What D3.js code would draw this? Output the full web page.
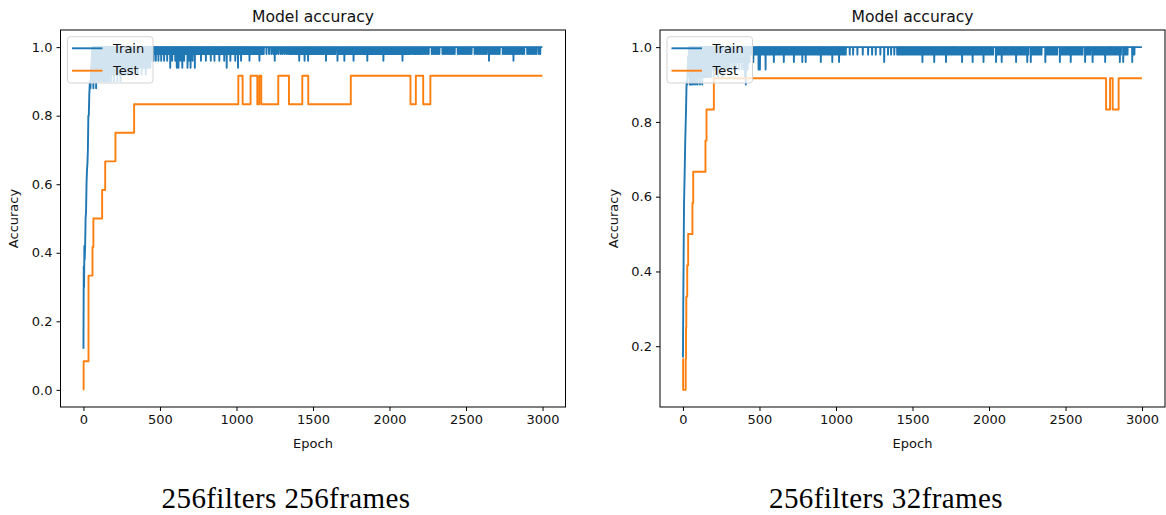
<!DOCTYPE html>
<html>
<head>
<meta charset="utf-8">
<script src="https://cdn.jsdelivr.net/npm/d3@7"></script>
<style>
  html, body { margin: 0; padding: 0; background: #fff; }
  svg { display: block; }
  .sans { font-family: "DejaVu Sans", sans-serif; fill: #111; }
  .caption { font-family: "Liberation Serif", "Times New Roman", serif; fill: #000; }
</style>
</head>
<body>
<svg id="chart" width="1166" height="515"></svg>
<script>
// ---- tick labels ----
const epochTicks = [0, 500, 1000, 1500, 2000, 2500, 3000];
const accTicksLeft = [0.0, 0.2, 0.4, 0.6, 0.8, 1.0];
const accTicksRight = [0.2, 0.4, 0.6, 0.8, 1.0];
const seriesNames = ["Train", "Test"];
const captions = ["256filters 256frames", "256filters 32frames"];
const lastEpoch = 2999;

// ================= 256 frames run =================
// early training ramp [epoch, accuracy]
const trainRamp256 = [[0,0.12],[2,0.36],[4,0.30],[6,0.42],[8,0.38],[11,0.42],[14,0.50],[17,0.52],
  [20,0.60],[23,0.64],[26,0.66],[29,0.70],[32,0.80],[35,0.80],[38,0.86],[42,0.90],[46,0.88],
  [50,0.94],[54,0.96],[58,1.0]];
// unsettled phase [epoch, accuracy]
const trainNoise256 = [[60,.90],[62,.94],[65,.88],[68,.92],[71,.96],[74,.90],[77,.92],[80,.94],[83,.88],
  [86,.92],[89,.96],[92,.90],[95,.92],[98,.94],[101,.90],[104,.96],[107,.92],[110,.90],[113,.94],[116,.92],
  [119,.96],[122,.90],[125,.92],[128,.94],[131,.90],[134,.96],[137,.92],[140,.94],[143,.90],[146,.92],
  [149,.96],[152,.92],[155,.90],[158,.94],[161,.92],[164,.96],[167,.90],[170,.92],[173,.94],[176,.96],
  [179,.92],[182,.90],[185,.94],[188,.92],[191,.96],[194,.92],[197,.94],[200,.90],[203,.96],[206,.92],
  [209,.94],[212,.96],[215,.92],[218,.94],[221,.90],[224,.96],[227,.92],[230,.94],[233,.96],[236,.92],
  [239,.94],[242,.90],[245,.96],[248,.92],[251,.94],[254,.96],[257,.92],[260,.94],[263,.96],[266,.92],
  [269,.94],[272,.98],[275,.92],[278,.94],[281,.96],[284,.92],[287,.94],[290,.96],[293,.92],[296,.98],
  [299,.94],[302,.96],[305,.92],[308,.94],[311,.98],[314,.94],[317,.96],[320,.92],[323,.98],[326,.94],
  [329,.96],[332,.98],[335,.92],[338,.96],[341,.94],[344,.98],[347,.96],[350,.94],[353,.98],[356,.92],
  [359,.96],[362,.94],[365,.98],[368,.96],[371,.94],[374,.98],[377,.96],[380,.92],[383,.98],[386,.96],
  [389,.94],[392,.98],[395,.96],[398,.94],[401,.98],[404,.96],[407,.92],[410,.98],[413,.96],[416,.94],
  [419,.98],[422,.96],[425,.94],[428,.98],[431,.96],[434,.98],[437,.94],[440,.98],[443,.96],[446,.98],
  [449,.96],[452,.98]];
// later epochs with a single misclassified sample (0.98), two (0.96) or three (0.94)
const dips98_256 = [455,462,466,471,477,482,486,494,499,503,511,516,520,524,531,536,541,552,556,561,571,
  575,585,589,594,605,609,614,618,626,630,639,643,651,655,663,668,673,685,689,697,703,708,718,723,733,
  737,742,748,753,757,762,773,778,783,788,795,805,810,815,820,826,837,842,847,851,861,866,871,876,881,
  893,898,903,909,914,925,930,941,946,951,956,965,970,975,980,986,997,1002,1006,1015,1020,1025,1035,
  1040,1045,1050,1056,1062,1068,1074,1080,1092,1098,1104,1111,1117,1124,1131,1138,1144,1157,1164,1171,
  1178,1196,1213,1228,1241,1262,1275,1289,1301,1314,1327,1338,1349,1358,1367,1377,1386,1395,1403,1419,
  1427,1436,1453,1461,1477,1485,1494,1502,1511,1520,1528,1537,1546,1554,1563,1572,1594,1602,1611,1620,
  1628,1637,1646,1669,1678,1687,1696,1714,1723,1732,1740,1749,1757,1775,1784,1793,1802,1811,1820,1828,
  1837,1846,1864,1873,1882,1891,1900,1909,1918,1927,1936,1945,1951,1969,1978,1987,1996,2005,2014,2023,
  2032,2041,2050,2059,2068,2077,2094,2103,2112,2121,2130,2140,2150,2160,2169,2178,2188,2197,2206,2216,
  2226,2236,2246,2256,2276,2286,2296,2306,2316,2326,2346,2356,2366,2376,2386,2396,2406,2416,2426,2446,
  2456,2466,2476,2486,2496,2506,2516,2526,2536,2556,2566,2576,2586,2596,2606,2616,2626,2636,2660,2670,
  2680,2690,2700,2710,2720,2740,2750,2760,2770,2780,2790,2800,2820,2830,2840,2850,2860,2870,2880,2900,
  2910,2920,2930,2940,2950,2960,2975,2985];
const dips96_256 = [458,473,490,508,527,547,580,600,634,658,692,713,768,800,832,856,888,920,960,992,1030,
  1085,1150,1250,1410,1445,1468,1585,1660,1705,1765,1855,1960,2085,2650,2810];
const dips94_256 = [567,610,621,646,680,700,728,936,1010];
// test accuracy, held from each listed epoch on [epoch, accuracy]
const testSteps256 = [[0,0],[1,0.0833],[33,0.3333],[59,0.4167],[65,0.5],[122,0.5833],[142,0.6667],
  [209,0.75],[331,0.8333],[1012,0.9167],[1040,0.8333],[1092,0.9167],[1136,0.8333],[1149,0.9167],
  [1162,0.8333],[1273,0.9167],[1343,0.8333],[1430,0.9167],[1469,0.8333],[1747,0.9167],[2137,0.8333],
  [2172,0.9167],[2220,0.8333],[2267,0.9167],[2999,0.9167]];

// ================= 32 frames run =================
const trainRamp32 = [[0,0.17],[2,0.31],[4,0.42],[7,0.58],[11,0.66],[15,0.75],[20,0.83],[24,0.91],
  [28,0.90],[33,0.975],[37,0.96],[40,1.0]];
const trainNoise32 = [[42,.92],[45,.90],[48,.94],[51,.90],[54,.96],[57,.92],[60,.90],[63,.94],[66,.92],
  [69,.96],[72,.90],[75,.94],[78,.92],[81,.96],[84,.90],[87,.94],[90,.92],[93,.96],[96,.90],[99,.92],
  [102,.94],[105,.96],[108,.92],[111,.90],[114,.94],[117,.96],[120,.92],[123,.94],[126,.90],[129,.96],
  [132,.92],[135,.94],[138,.96],[141,.92],[144,.94],[147,.98],[150,.92],[153,.94],[156,.96],[159,.92],
  [162,.98],[165,.94],[168,.96],[171,.92],[174,.98],[177,.94],[180,.96],[183,.92],[186,.98],[189,.94],
  [192,.96],[195,.98],[198,.94],[201,.92],[204,.96],[207,.98],[210,.94],[213,.96],[216,.98],[219,.94],
  [222,.96],[225,.98],[228,.92],[231,.96],[234,.98],[237,.94],[240,.96],[243,.98],[246,.96],[249,.94],
  [252,.98],[255,.96],[258,.92],[261,.98],[264,.96],[267,.94],[270,.98],[273,.96],[276,.98],[279,.94],
  [282,.96],[285,.98],[288,.96],[291,.94],[294,.98],[297,.96],[300,.98],[303,.94],[306,.96],[309,.98],
  [312,.96],[315,.98],[318,.94],[321,.98],[324,.96],[327,.98],[330,.96],[333,.94],[336,.98],[339,.96],
  [342,.98],[345,.96],[348,.94],[351,.98],[354,.96],[357,.98],[360,.96],[363,.98],[366,.94],[369,.98],
  [372,.96],[375,.98],[378,.96],[381,.98],[384,.94],[387,.98],[390,.96],[393,.98],[396,.96],[399,.94],
  [402,.98],[405,.92],[408,.96],[411,.90],[414,.98],[417,.96],[420,.98],[423,.94],[426,.98],[429,.96],
  [432,.98],[435,.96]];
const dips98_32 = [440,446,452,456,465,470,475,481,486,491,507,512,517,522,527,532,545,550,556,561,567,572,
  578,583,589,599,604,610,615,621,626,632,637,643,648,654,665,670,676,681,687,692,698,703,709,714,720,731,
  736,742,747,753,758,764,769,775,786,791,797,808,813,819,824,830,835,841,846,852,858,863,869,874,880,885,
  891,896,907,912,918,923,929,934,940,945,951,957,962,968,982,987,993,998,1004,1009,1015,1026,1031,1037,
  1042,1048,1053,1059,1064,1090,1112,1140,1175,1210,1236,1260,1290,1340,1360,1381,
  1400,1407,1414,1421,1428,1435,1442,1449,1456,1463,1470,1477,1484,1491,1498,1505,1512,1519,1526,1533,
  1540,1547,1554,1561,1572,1579,1586,1593,1600,1607,1614,1621,1628,1635,1649,1656,1663,1670,1677,1684,
  1691,1698,1705,1712,1726,1733,1740,1747,1754,1761,1768,1775,1782,1789,1796,1803,1812,1818,1831,1838,
  1845,1852,1859,1866,1873,1880,1886,1900,1907,1914,1921,1928,1935,1942,1949,1956,1971,1978,1985,1992,
  1999,2006,2013,2020,2027,2053,2060,2067,2074,2090,2097,2104,2111,2118,2125,2132,2139,2146,2153,2160,
  2167,2184,2191,2198,2205,2212,2219,2226,2233,2240,2257,2280,2287,2294,2301,2308,2315,2322,2329,2336,
  2343,2375,2382,2389,2396,2403,2410,2417,2424,2431,2438,2445,2470,2477,2484,2491,2498,2505,2512,2519,
  2526,2541,2548,2555,2562,2569,2576,2583,2590,2597,2604,2611,2635,2642,2649,2656,2663,2684,2691,2698,
  2705,2712,2719,2726,2733,2740,2747,2766,2773,2780,2787,2794,2801,2808,2815,2822,2829,2836,2843,2862,
  2884,2891,2898,2905,2943,2950];
const dips96_32 = [460,500,594,659,725,780,802,901,976,1020,1315,1565,1642,1719,1824,1893,1964,2046,2083,
  2177,2250,2273,2368,2463,2534,2628,2677,2759,2855,2877,2936];
const dips94_32 = [494,503,540];
const testSteps32 = [[0,0.1667],[1,0.0833],[18,0.1667],[20,0.25],[22,0.3333],[28,0.4167],[34,0.5],
  [62,0.5833],[67,0.6667],[147,0.75],[154,0.8333],[202,0.9167],[2765,0.8333],[2791,0.9167],
  [2808,0.8333],[2847,0.9167],[2999,0.9167]];

// ---- styling ----
const TRAIN_COLOR = "#1f77b4";
const TEST_COLOR = "#ff7f0e";
const FONT = 13;
const TITLE_FONT = 15.6;

// per-epoch train curve: ramp, then 1.0 except where a recorded value differs
function trainCurve(ramp, noise, d98, d96, d94) {
  const acc = new Map(noise);
  d98.forEach(e => acc.set(e, 0.98));
  d96.forEach(e => acc.set(e, 0.96));
  d94.forEach(e => acc.set(e, 0.94));
  const pts = ramp.slice();
  for (let e = ramp[ramp.length - 1][0] + 1; e <= lastEpoch; e++) {
    pts.push([e, acc.has(e) ? acc.get(e) : 1.0]);
  }
  return pts;
}

const svg = d3.select("#chart");

function panel(opts) {
  const { left, right, top, bottom, train, test, accTicks, caption, captionX } = opts;
  const g = svg.append("g");

  const x = d3.scaleLinear().domain([-150, 3150]).range([left, right]);
  const all = train.map(d => d[1]).concat(test.map(d => d[1]));
  const lo = d3.min(all), hi = d3.max(all), pad = (hi - lo) * 0.05;
  const y = d3.scaleLinear().domain([lo - pad, hi + pad]).range([bottom, top]);

  // data lines
  const trainLine = d3.line().x(d => x(d[0])).y(d => y(d[1]));
  const testLine = d3.line().x(d => x(d[0])).y(d => y(d[1])).curve(d3.curveStepAfter);
  g.append("path").datum(train).attr("d", trainLine)
    .attr("fill", "none").attr("stroke", TRAIN_COLOR).attr("stroke-width", 1.9)
    .attr("stroke-linejoin", "round");
  g.append("path").datum(test).attr("d", testLine)
    .attr("fill", "none").attr("stroke", TEST_COLOR).attr("stroke-width", 1.9)
    .attr("stroke-linejoin", "round");

  // axes
  const xAxis = d3.axisBottom(x).tickValues(epochTicks).tickSize(4).tickPadding(4)
    .tickFormat(d3.format("d"));
  const yAxis = d3.axisLeft(y).tickValues(accTicks).tickSize(4).tickPadding(4)
    .tickFormat(d3.format(".1f"));
  const gx = g.append("g").attr("transform", `translate(0,${bottom})`).call(xAxis);
  const gy = g.append("g").attr("transform", `translate(${left},0)`).call(yAxis);
  [gx, gy].forEach(a => {
    a.select(".domain").remove();
    a.selectAll("line").attr("stroke", "#000").attr("stroke-width", 1);
    a.selectAll("text").attr("class", "sans").style("font-size", FONT + "px")
      .attr("fill", "#111");
  });

  // frame
  g.append("rect").attr("x", left).attr("y", top)
    .attr("width", right - left).attr("height", bottom - top)
    .attr("fill", "none").attr("stroke", "#000").attr("stroke-width", 1);

  // titles
  const cx = (left + right) / 2;
  g.append("text").attr("class", "sans").attr("x", cx).attr("y", top - 8.5)
    .attr("text-anchor", "middle").style("font-size", TITLE_FONT + "px").text("Model accuracy");
  g.append("text").attr("class", "sans").attr("x", cx).attr("y", bottom + 40.5)
    .attr("text-anchor", "middle").style("font-size", FONT + "px").text("Epoch");
  g.append("text").attr("class", "sans")
    .attr("transform", `translate(${left - 42.5},${(top + bottom) / 2}) rotate(-90)`)
    .attr("text-anchor", "middle").style("font-size", FONT + "px").text("Accuracy");

  // legend
  const lg = g.append("g").attr("transform", `translate(${left + 7},${top + 6.7})`);
  lg.append("rect").attr("width", 85.5).attr("height", 46.3).attr("rx", 3)
    .attr("fill", "#fff").attr("fill-opacity", 0.8)
    .attr("stroke", "#d4d4d4").attr("stroke-width", 1);
  [TRAIN_COLOR, TEST_COLOR].forEach((c, i) => {
    const yy = 11.6 + i * 22.4;
    lg.append("line").attr("x1", 4.5).attr("x2", 35).attr("y1", yy).attr("y2", yy)
      .attr("stroke", c).attr("stroke-width", 1.9);
    lg.append("text").attr("class", "sans").attr("x", 45.5).attr("y", yy + 4.7)
      .style("font-size", FONT + "px").text(seriesNames[i]);
  });

  // caption
  svg.append("text").attr("class", "caption").attr("x", captionX).attr("y", 507.5)
    .attr("text-anchor", "middle").style("font-size", "29px")
    .style("letter-spacing", "0.4px").text(caption);
}

panel({ left: 60.5, right: 565.5, top: 30, bottom: 407,
  train: trainCurve(trainRamp256, trainNoise256, dips98_256, dips96_256, dips94_256), test: testSteps256,
  accTicks: accTicksLeft, caption: captions[0], captionX: 286 });
panel({ left: 660, right: 1165, top: 30, bottom: 407,
  train: trainCurve(trainRamp32, trainNoise32, dips98_32, dips96_32, dips94_32), test: testSteps32,
  accTicks: accTicksRight, caption: captions[1], captionX: 886 });
</script>
</body>
</html>
